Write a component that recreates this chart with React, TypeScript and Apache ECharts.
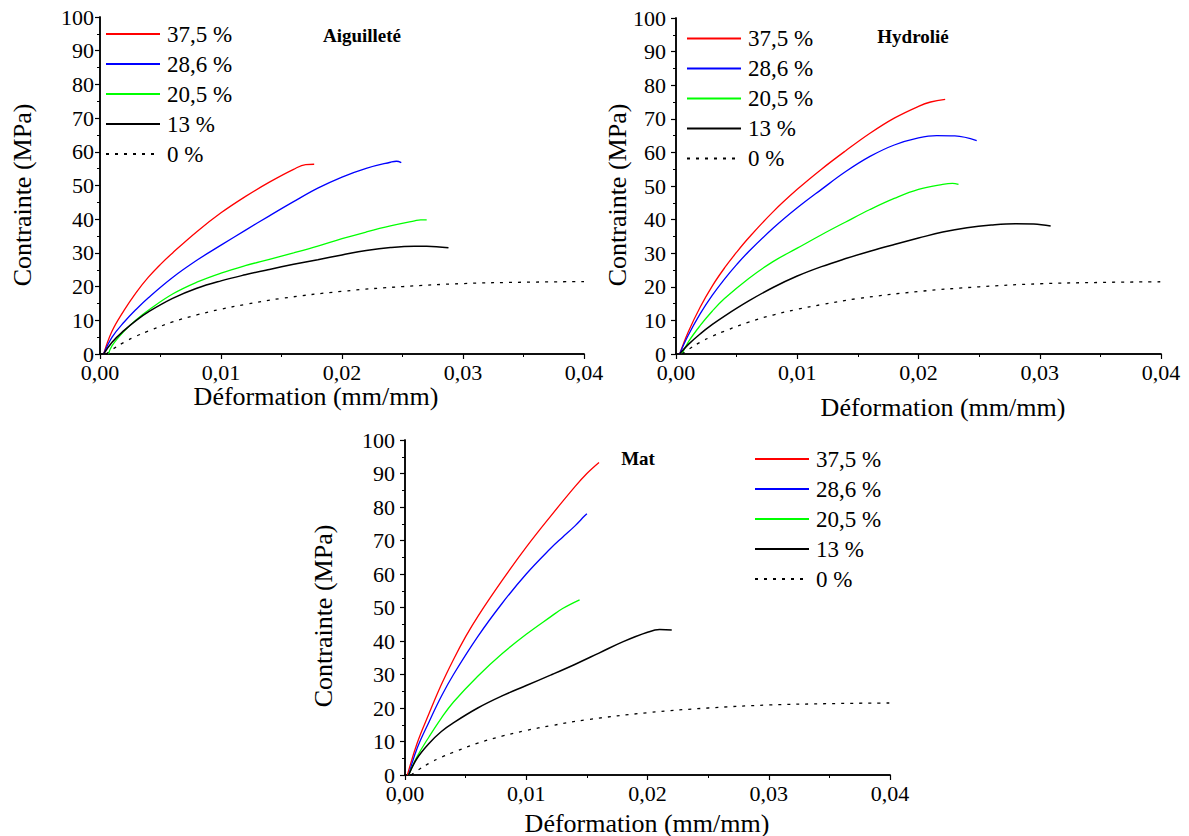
import React, { useEffect, useRef } from "react";
import * as echarts from "echarts";

const seriesNames = ["37,5 %", "28,6 %", "20,5 %", "13 %", "0 %"];
const seriesColors = ["#ff0000", "#0000ff", "#00ff00", "#000000", "#000000"];
const panelTitles = ["Aiguilleté", "Hydrolié", "Mat"];
const xAxisName = "Déformation (mm/mm)";
const yAxisName = "Contrainte (MPa)";
const xMin = 0;
const xMax = 0.04;
const xStep = 0.01;
const yMin = 0;
const yMax = 100;
const yStep = 10;

// Aiguilleté
const aig375 = [[0.0003,0],[0.001,6.8],[0.002,13],[0.003,18.3],[0.004,22.8],[0.005,26.6],[0.006,30],[0.008,36.3],[0.01,41.9],[0.012,46.7],[0.014,51],[0.016,54.8],[0.017,56.2],[0.0177,56.3]];
const aig286 = [[0.0003,0],[0.001,5],[0.002,9.5],[0.003,13.3],[0.004,16.7],[0.006,22.7],[0.008,27.8],[0.01,32.3],[0.012,36.7],[0.014,41],[0.016,45.2],[0.018,49.2],[0.02,52.5],[0.022,55.1],[0.024,56.9],[0.0245,57.2],[0.0249,56.8]];
const aig205 = [[0.0007,0],[0.001,2.5],[0.002,6.8],[0.003,10.2],[0.004,13],[0.006,17.8],[0.008,21.3],[0.01,24],[0.012,26.2],[0.014,28.1],[0.016,30],[0.018,32],[0.02,34.2],[0.022,36.2],[0.024,38],[0.026,39.5],[0.0265,39.8],[0.027,39.8]];
const aig13 = [[0.0003,0],[0.001,3.5],[0.002,7],[0.003,10],[0.004,12.5],[0.006,16.5],[0.008,19.5],[0.01,21.7],[0.012,23.5],[0.014,25.1],[0.016,26.6],[0.018,28],[0.02,29.4],[0.022,30.7],[0.024,31.6],[0.026,32],[0.027,32],[0.0288,31.5]];

// Hydrolié
const hyd375 = [[0.0003,0],[0.001,6.5],[0.002,14],[0.003,20.3],[0.004,25.6],[0.005,30.3],[0.006,34.6],[0.008,42.3],[0.01,49],[0.012,55],[0.014,60.5],[0.016,65.7],[0.018,70.2],[0.02,73.7],[0.021,75],[0.0222,75.8]];
const hyd286 = [[0.0003,0],[0.001,5.5],[0.002,12],[0.003,17.5],[0.004,22.3],[0.005,26.6],[0.006,30.5],[0.008,37.4],[0.01,43.5],[0.012,49],[0.014,54.3],[0.016,58.8],[0.018,62.2],[0.02,64.3],[0.0215,65],[0.023,64.9],[0.0248,63.5]];
const hyd205 = [[0.0005,0],[0.001,3.5],[0.002,8.5],[0.003,12.8],[0.004,16.5],[0.006,22.5],[0.008,27.5],[0.01,31.5],[0.012,35.5],[0.014,39.3],[0.016,43],[0.018,46.3],[0.02,49],[0.022,50.5],[0.0228,50.8],[0.0233,50.5]];
const hyd13 = [[0.0003,0],[0.001,2.8],[0.002,6],[0.003,8.8],[0.004,11.3],[0.006,15.8],[0.008,19.8],[0.01,23.2],[0.012,26],[0.014,28.4],[0.016,30.6],[0.018,32.6],[0.02,34.5],[0.022,36.3],[0.024,37.6],[0.026,38.4],[0.028,38.8],[0.0295,38.7],[0.0309,38.1]];

// Mat
const mat375 = [[0.0002,0],[0.001,9.5],[0.002,18.5],[0.003,27],[0.004,34.5],[0.005,41.3],[0.006,47.3],[0.008,58],[0.01,68],[0.012,77.2],[0.014,86],[0.015,90],[0.016,93.3]];
const mat286 = [[0.0003,0],[0.001,8],[0.002,16],[0.003,23.5],[0.004,30],[0.006,41.3],[0.008,51.2],[0.01,60],[0.012,67.6],[0.013,71],[0.014,74.3],[0.0148,77.3],[0.015,78]];
const mat205 = [[0.0003,0],[0.001,5.5],[0.002,11.5],[0.003,17],[0.004,21.8],[0.006,29.5],[0.008,36.2],[0.01,42],[0.012,47.2],[0.013,49.7],[0.0144,52.3]];
const mat13 = [[0.0003,0],[0.001,5],[0.002,9.5],[0.003,13],[0.004,15.6],[0.006,20],[0.008,23.6],[0.01,26.7],[0.012,29.8],[0.014,33],[0.016,36.4],[0.018,39.8],[0.02,42.6],[0.021,43.4],[0.022,43.3]];

// 0 % (matrix alone) — same curve in the three panels
const neat0 = [[0.0005,0],[0.001,1.3],[0.002,3.5],[0.003,5.3],[0.004,6.8],[0.006,9.5],[0.008,11.6],[0.01,13.3],[0.012,14.7],[0.015,16.5],[0.02,18.6],[0.025,20],[0.03,20.9],[0.035,21.3],[0.04,21.5]];

const panelData = [
  [aig375, aig286, aig205, aig13, neat0],
  [hyd375, hyd286, hyd205, hyd13, neat0],
  [mat375, mat286, mat205, mat13, neat0],
];

const FONT = "Liberation Serif";

// layout
const grids = [
  { left: 100, top: 17, width: 484, height: 337 },
  { left: 676, top: 18, width: 485, height: 336 },
  { left: 405, top: 440, width: 485, height: 335 },
];
const yLabelMargins = [6, 10, 10];
const legendPos = [
  { left: 105, top: 22.5 },
  { left: 686, top: 27 },
  { left: 754, top: 447.5 },
];
const yNamePos = [[22, 195], [617, 195], [323, 616]];
const xNamePos = [[316, 396], [943, 407], [647, 823]];
const titlePos = [[362, 35], [913, 36], [638, 458]];

export default function App() {
  const ref = useRef<HTMLDivElement>(null);
  useEffect(() => {
    if (!ref.current) return;
    const chart = echarts.init(ref.current, null, { renderer: "svg" });
    const xAxes: any[] = [];
    const yAxes: any[] = [];
    const series: any[] = [];
    grids.forEach((g, i) => {
      const axisLine = { show: true, lineStyle: { color: "#000", width: 1.5 } };
      xAxes.push({
        type: "value", gridIndex: i, position: "bottom", min: xMin, max: xMax, interval: xStep,
        axisLine, splitLine: { show: false },
        axisTick: { show: true, inside: false, length: 5, lineStyle: { color: "#000", width: 1.2 } },
        minorTick: { show: true, splitNumber: 2, length: 3, lineStyle: { color: "#000", width: 1 } },
        axisLabel: { fontFamily: FONT, fontSize: 22, color: "#000", margin: 7,
          formatter: (v: number) => v.toFixed(2).replace(".", ",") },
      });
      xAxes.push({
        type: "value", gridIndex: i, position: "top", min: xMin, max: xMax, interval: xStep,
        axisLine, splitLine: { show: false },
        axisTick: { show: true, inside: true, length: 5, lineStyle: { color: "#000", width: 1 } },
        minorTick: { show: true, splitNumber: 2, length: 3, lineStyle: { color: "#000", width: 1 } },
        axisLabel: { show: false },
      });
      yAxes.push({
        type: "value", gridIndex: i, position: "left", min: yMin, max: yMax, interval: yStep,
        axisLine, splitLine: { show: false },
        axisTick: { show: true, inside: false, length: 5, lineStyle: { color: "#000", width: 1.2 } },
        minorTick: { show: true, splitNumber: 2, length: 3, lineStyle: { color: "#000", width: 1 } },
        axisLabel: { fontFamily: FONT, fontSize: 22, color: "#000", margin: yLabelMargins[i] },
      });
      yAxes.push({
        type: "value", gridIndex: i, position: "right", min: yMin, max: yMax, interval: yStep,
        axisLine, splitLine: { show: false },
        axisTick: { show: true, inside: true, length: 5, lineStyle: { color: "#000", width: 1 } },
        minorTick: { show: true, splitNumber: 2, length: 3, lineStyle: { color: "#000", width: 1 } },
        axisLabel: { show: false },
      });
      panelData[i].forEach((d, k) => {
        series.push({
          type: "line",
          name: seriesNames[k],
          xAxisIndex: 2 * i,
          yAxisIndex: 2 * i,
          data: d,
          showSymbol: false,
          symbol: "none",
          smooth: 0.4,
          lineStyle: {
            color: seriesColors[k],
            width: k === 3 ? 1.5 : 1.3,
            type: k === 4 ? [3, 6] : "solid",
          },
          itemStyle: { color: seriesColors[k] },
          silent: true,
        });
      });
    });

    const legends = legendPos.map((p) => ({
      orient: "vertical",
      left: p.left,
      top: p.top,
      padding: 0,
      itemWidth: 54,
      itemHeight: 14,
      itemGap: 7,
      selectedMode: false,
      data: seriesNames,
      itemStyle: { color: "transparent", borderColor: "transparent", borderWidth: 0, opacity: 0 },
      textStyle: { fontFamily: FONT, fontSize: 23, color: "#000", lineHeight: 23, padding: [0, 0, 0, 2] },
    }));

    const graphic: any[] = [];
    yNamePos.forEach(([x, y]) => {
      graphic.push({
        type: "text", x, y, rotation: Math.PI / 2,
        style: { text: yAxisName, fontFamily: FONT, fontSize: 26, fill: "#000", align: "center", verticalAlign: "middle" },
      });
    });
    xNamePos.forEach(([x, y]) => {
      graphic.push({
        type: "text", x, y,
        style: { text: xAxisName, fontFamily: FONT, fontSize: 26, fill: "#000", align: "center", verticalAlign: "middle" },
      });
    });
    titlePos.forEach(([x, y], i) => {
      graphic.push({
        type: "text", x, y,
        style: { text: panelTitles[i], fontFamily: FONT, fontSize: 19, fontWeight: "bold", fill: "#000", align: "center", verticalAlign: "middle" },
      });
    });

    chart.setOption({
      animation: false,
      backgroundColor: "#fff",
      grid: grids.map((g) => ({ ...g, containLabel: false })),
      xAxis: xAxes,
      yAxis: yAxes,
      legend: legends,
      series,
      graphic,
    });
    return () => chart.dispose();
  }, []);
  return (
    <div
      ref={ref}
      style={{ position: "fixed", left: 0, top: 0, width: 1189, height: 836, background: "#fff" }}
    />
  );
}
